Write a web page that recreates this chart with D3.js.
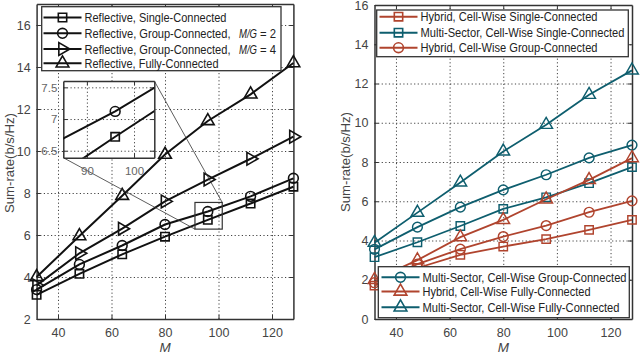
<!DOCTYPE html>
<html>
<head>
<meta charset="utf-8">
<script src="https://cdn.jsdelivr.net/npm/d3@7"></script>
<style>
  body { margin: 0; background: #fff; }
  svg text { font-family: "Liberation Sans", Arimo, Helvetica, Arial, sans-serif; }
  .grid line { stroke: #444; stroke-dasharray: 1.2,2.4; stroke-width: 1; }
  .grid path { display: none; }
  .ax path, .ax line { stroke: #333; }
  .ax text { fill: #444; font-size: 12.5px; }
</style>
</head>
<body>
<svg id="chart" width="640" height="354"></svg>
<script>
// data
var M = [32, 48, 64, 80, 96, 112, 128];
var xTicks = [40, 60, 80, 100, 120];
var leftYTicks = [2, 4, 6, 8, 10, 12, 14, 16];
var rightYTicks = [0, 2, 4, 6, 8, 10, 12, 14, 16];
var insetXTicks = [90, 100];
var insetYTicks = [6.5, 7, 7.5];

var reflSingle = [3.15, 4.15, 5.08, 5.92, 6.72, 7.5, 8.3];
var reflGroup2 = [3.4, 4.6, 5.5, 6.5, 7.12, 7.84, 8.7];
var reflGroup4 = [3.6, 5.13, 6.3, 7.6, 8.64, 9.63, 10.68];
var reflFully = [4.0, 5.95, 7.87, 9.83, 11.43, 12.7, 14.19];

var hybSingle = [1.7, 2.6, 3.27, 3.69, 4.07, 4.54, 5.05];
var msSingle = [3.15, 3.91, 4.74, 5.61, 6.2, 6.92, 7.74];
var hybGroup = [1.85, 2.8, 3.56, 4.2, 4.76, 5.44, 6.02];
var msGroup = [3.55, 4.68, 5.7, 6.58, 7.35, 8.21, 8.86];
var hybFully = [2.0, 3.0, 4.17, 5.05, 6.1, 7.09, 8.2];
var msFully = [3.89, 5.42, 6.96, 8.54, 9.9, 11.43, 12.67];

var red = '#b0442e';
var teal = '#0e5e6e';

var svg = d3.select('#chart');

// marker shapes
var markers = {
  square: { type: d3.symbolSquare, size: 70, rot: 0 },
  circle: { type: d3.symbolCircle, size: 75, rot: 0 },
  tri: { type: d3.symbolTriangle, size: 70, rot: 0 },
  triRight: { type: d3.symbolTriangle, size: 70, rot: 90 }
};

function drawMarker(g, cx, cy, m, color, w) {
  g.append('path')
    .attr('d', d3.symbol().type(markers[m].type).size(markers[m].size)())
    .attr('transform', 'translate(' + cx + ',' + cy + ') rotate(' + markers[m].rot + ')')
    .style('fill', 'none')
    .style('stroke', color)
    .style('stroke-width', w);
}

// axes frame with dotted grid, inner ticks on all four sides
function drawFrame(g, x, y, xt, yt, fs) {
  var x0 = x.range()[0], x1 = x.range()[1];
  var y0 = y.range()[0], y1 = y.range()[1];
  var fmt = d3.format('~g');
  g.append('g').attr('class', 'grid')
    .attr('transform', 'translate(0,' + y0 + ')')
    .call(d3.axisBottom(x).tickValues(xt).tickSize(-(y0 - y1)).tickFormat(''));
  g.append('g').attr('class', 'grid')
    .attr('transform', 'translate(' + x0 + ',0)')
    .call(d3.axisLeft(y).tickValues(yt).tickSize(-(x1 - x0)).tickFormat(''));

  var bottom = g.append('g').attr('class', 'ax')
    .attr('transform', 'translate(0,' + y0 + ')')
    .call(d3.axisBottom(x).tickValues(xt).tickFormat(fmt).tickSizeInner(-4).tickSizeOuter(0).tickPadding(9));
  var left = g.append('g').attr('class', 'ax')
    .attr('transform', 'translate(' + x0 + ',0)')
    .call(d3.axisLeft(y).tickValues(yt).tickFormat(fmt).tickSizeInner(-4).tickSizeOuter(0).tickPadding(6));
  g.append('g').attr('class', 'ax')
    .attr('transform', 'translate(0,' + y1 + ')')
    .call(d3.axisTop(x).tickValues(xt).tickSizeInner(-4).tickSizeOuter(0).tickFormat(''));
  g.append('g').attr('class', 'ax')
    .attr('transform', 'translate(' + x1 + ',0)')
    .call(d3.axisRight(y).tickValues(yt).tickSizeInner(-4).tickSizeOuter(0).tickFormat(''));
  if (fs) {
    bottom.selectAll('text').style('font-size', fs);
    left.selectAll('text').style('font-size', fs);
  }
  g.selectAll('.ax path').style('stroke-width', 1.5);
}

function drawSeries(g, x, y, xs, ys, m, color, lw) {
  var line = d3.line()
    .x(function(d, i) { return x(xs[i]); })
    .y(function(d) { return y(d); });
  g.append('path')
    .datum(ys)
    .attr('d', line)
    .style('fill', 'none')
    .style('stroke', color)
    .style('stroke-width', lw);
  ys.forEach(function(v, i) {
    drawMarker(g, x(xs[i]), y(v), m, color, lw * 0.8);
  });
}

function drawLegend(g, box, rows, fs) {
  g.append('rect')
    .attr('x', box[0]).attr('y', box[1])
    .attr('width', box[2]).attr('height', box[3])
    .style('fill', '#fff').style('stroke', '#333').style('stroke-width', 1.3);
  rows.forEach(function(r) {
    g.append('line')
      .attr('x1', r.x).attr('x2', r.x + 38)
      .attr('y1', r.y).attr('y2', r.y)
      .style('stroke', r.color).style('stroke-width', 2);
    drawMarker(g, r.x + 19, r.y, r.m, r.color, 1.6);
    g.append('text')
      .attr('x', r.x + 41).attr('y', r.y + 4.5)
      .attr('textLength', r.w).attr('lengthAdjust', 'spacingAndGlyphs')
      .style('font-size', fs)
      .style('fill', '#222')
      .text(r.label);
  });
}

// ---------- left panel ----------
var xL = d3.scaleLinear().domain([32, 128]).range([36.6, 293.4]);
var yL = d3.scaleLinear().domain([2, 17]).range([319, 4]);
var left = svg.append('g');
drawFrame(left, xL, yL, xTicks, leftYTicks);

drawSeries(left, xL, yL, M, reflSingle, 'square', '#111', 2);
drawSeries(left, xL, yL, M, reflGroup2, 'circle', '#111', 2);
drawSeries(left, xL, yL, M, reflGroup4, 'triRight', '#111', 2);
drawSeries(left, xL, yL, M, reflFully, 'tri', '#111', 2);

// zoom rectangle and inset
var zx = [91.2, 101.4], zy = [6.28, 7.55];
var xI = d3.scaleLinear().domain([85, 104.3]).range([63.3, 154.3]);
var yI = d3.scaleLinear().domain([6.39, 7.6]).range([157.7, 81]);

left.append('rect')
  .attr('x', xL(zx[0])).attr('y', yL(zy[1]))
  .attr('width', xL(zx[1]) - xL(zx[0])).attr('height', yL(zy[0]) - yL(zy[1]))
  .style('fill', 'none').style('stroke', '#333').style('stroke-width', 1.2);
left.append('line')
  .attr('x1', xI.range()[1]).attr('y1', yI.range()[1])
  .attr('x2', xL(zx[1])).attr('y2', yL(zy[1]))
  .style('stroke', '#333').style('stroke-width', 0.8);
left.append('line')
  .attr('x1', xI.range()[0]).attr('y1', yI.range()[0])
  .attr('x2', xL(zx[0])).attr('y2', yL(zy[0]))
  .style('stroke', '#333').style('stroke-width', 0.8);

var inset = left.append('g');
inset.append('rect')
  .attr('x', 63.3).attr('y', 81).attr('width', 91).attr('height', 76.7)
  .style('fill', '#fff');
drawFrame(inset, xI, yI, insetXTicks, insetYTicks, '11.5px');
inset.selectAll('.ax text').style('fill', '#666');
inset.append('clipPath').attr('id', 'insetClip')
  .append('rect').attr('x', 63.3).attr('y', 81).attr('width', 91).attr('height', 76.7);
var insetData = inset.append('g').attr('clip-path', 'url(#insetClip)');
drawSeries(insetData, xI, yI, M, reflSingle, 'square', '#111', 2);
drawSeries(insetData, xI, yI, M, reflGroup2, 'circle', '#111', 2);

drawLegend(left, [41.7, 6.7, 239.3, 64], [
  { x: 43.5, y: 17.5, m: 'square', color: '#111', label: 'Reflective, Single-Connected', w: 142 },
  { x: 43.5, y: 33.3, m: 'circle', color: '#111', label: 'Reflective, Group-Connected,', w: 146 },
  { x: 43.5, y: 49, m: 'triRight', color: '#111', label: 'Reflective, Group-Connected,', w: 146 },
  { x: 43.5, y: 63.3, m: 'tri', color: '#111', label: 'Reflective, Fully-Connected', w: 134 }
], '12px');
// the M/G values of the two group-connected rows
var mgRows = [{ y: 33.3, mg: 2 }, { y: 49, mg: 4 }];
mgRows.forEach(function(r) {
  left.append('text')
    .attr('x', 239).attr('y', r.y + 4.5)
    .attr('textLength', 18).attr('lengthAdjust', 'spacingAndGlyphs')
    .style('font-size', '12px').style('font-style', 'italic')
    .style('fill', '#222')
    .text('M/G');
  left.append('text')
    .attr('x', 260).attr('y', r.y + 4.5)
    .attr('textLength', 16).attr('lengthAdjust', 'spacingAndGlyphs')
    .style('font-size', '12px')
    .style('fill', '#222')
    .text('= ' + r.mg);
});

left.append('text')
  .attr('transform', 'translate(14,163) rotate(-90)')
  .attr('text-anchor', 'middle')
  .attr('textLength', 100).attr('lengthAdjust', 'spacingAndGlyphs')
  .style('font-size', '13.5px').style('fill', '#444')
  .text('Sum-rate(b/s/Hz)');
left.append('text')
  .attr('x', xL(80)).attr('y', 352)
  .attr('text-anchor', 'middle')
  .style('font-size', '13.5px').style('font-style', 'italic').style('fill', '#444')
  .text('M');

// ---------- right panel ----------
var xR = d3.scaleLinear().domain([32, 128]).range([374.5, 632]);
var yR = d3.scaleLinear().domain([0, 16]).range([319, 5]);
var right = svg.append('g');
drawFrame(right, xR, yR, xTicks, rightYTicks);

drawSeries(right, xR, yR, M, hybSingle, 'square', red, 1.8);
drawSeries(right, xR, yR, M, hybGroup, 'circle', red, 1.8);
drawSeries(right, xR, yR, M, msSingle, 'square', teal, 1.8);
drawSeries(right, xR, yR, M, msGroup, 'circle', teal, 1.8);
drawSeries(right, xR, yR, M, hybFully, 'tri', red, 1.8);
drawSeries(right, xR, yR, M, msFully, 'tri', teal, 1.8);

drawLegend(right, [376.7, 10, 251.6, 46.7], [
  { x: 379.5, y: 16.7, m: 'square', color: red, label: 'Hybrid, Cell-Wise Single-Connected', w: 177 },
  { x: 379.5, y: 32.7, m: 'square', color: teal, label: 'Multi-Sector, Cell-Wise Single-Connected', w: 204 },
  { x: 379.5, y: 47.7, m: 'circle', color: red, label: 'Hybrid, Cell-Wise Group-Connected', w: 177 }
], '12px');
drawLegend(right, [378.3, 266.7, 251, 51], [
  { x: 381.5, y: 277.3, m: 'circle', color: teal, label: 'Multi-Sector, Cell-Wise Group-Connected', w: 204 },
  { x: 381.5, y: 291.5, m: 'tri', color: red, label: 'Hybrid, Cell-Wise Fully-Connected', w: 168 },
  { x: 381.5, y: 307.3, m: 'tri', color: teal, label: 'Multi-Sector, Cell-Wise Fully-Connected', w: 197 }
], '12px');

right.append('text')
  .attr('transform', 'translate(350,162) rotate(-90)')
  .attr('text-anchor', 'middle')
  .attr('textLength', 100).attr('lengthAdjust', 'spacingAndGlyphs')
  .style('font-size', '13.5px').style('fill', '#444')
  .text('Sum-rate(b/s/Hz)');
right.append('text')
  .attr('x', xR(80)).attr('y', 352)
  .attr('text-anchor', 'middle')
  .style('font-size', '13.5px').style('font-style', 'italic').style('fill', '#444')
  .text('M');
</script>
</body>
</html>
